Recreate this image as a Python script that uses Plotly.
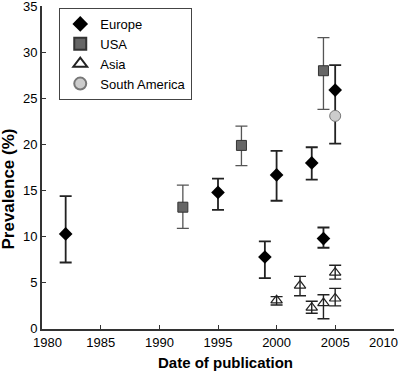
import plotly.graph_objects as go

# Europe
eu_year = [1982, 1995, 1999, 2000, 2003, 2004, 2005]
eu_val = [10.3, 14.8, 7.8, 16.7, 18.0, 9.8, 25.9]
eu_lo = [7.2, 12.9, 5.5, 13.9, 16.2, 8.8, 20.1]
eu_hi = [14.4, 16.3, 9.5, 19.3, 19.7, 11.0, 28.6]

# USA
us_year = [1992, 1997, 2004]
us_val = [13.2, 19.9, 28.0]
us_lo = [10.9, 17.7, 23.8]
us_hi = [15.6, 22.0, 31.6]

# Asia
as_year = [2000, 2002, 2003, 2004, 2005, 2005]
as_val = [3.1, 4.7, 2.3, 2.8, 6.1, 3.3]
as_lo = [2.6, 3.6, 1.7, 1.1, 5.4, 2.5]
as_hi = [3.5, 5.7, 3.0, 3.7, 6.9, 4.4]

# South America
sa_year = [2005]
sa_val = [23.1]

x_ticks = [1980, 1985, 1990, 1995, 2000, 2005, 2010]
y_ticks = [0, 5, 10, 15, 20, 25, 30, 35]


def err(val, lo, hi, color, thick):
    return dict(type="data", symmetric=False,
                array=[h - v for v, h in zip(val, hi)],
                arrayminus=[v - l for v, l in zip(val, lo)],
                color=color, thickness=thick, width=6)


fig = go.Figure()
fig.add_trace(go.Scatter(
    x=eu_year, y=eu_val, mode="markers", name="Europe",
    marker=dict(symbol="diamond", size=10.5, color="black", line=dict(width=0)),
    error_y=err(eu_val, eu_lo, eu_hi, "#222222", 1.8)))
fig.add_trace(go.Scatter(
    x=us_year, y=us_val, mode="markers", name="USA",
    marker=dict(symbol="square", size=10, color="#666666", line=dict(width=1, color="#333333")),
    error_y=err(us_val, us_lo, us_hi, "#555555", 1.3)))
fig.add_trace(go.Scatter(
    x=as_year, y=as_val, mode="markers", name="Asia",
    marker=dict(symbol="triangle-up-open", size=10, color="#222222", line=dict(width=1.2)),
    error_y=err(as_val, as_lo, as_hi, "#222222", 1.4)))
fig.add_trace(go.Scatter(
    x=sa_year, y=sa_val, mode="markers", name="South America",
    marker=dict(symbol="circle", size=11, color="#cccccc", line=dict(width=1, color="#777777"))))

axis_common = dict(ticks="inside", ticklen=4, tickcolor="#333333", tickwidth=1.2,
                   showline=True, linecolor="#333333", linewidth=2,
                   showgrid=False, zeroline=False, automargin=False,
                   ticklabeloverflow="allow", tickfont=dict(size=13))

# first and last x tick labels are drawn nudged inward (as in the reference)
x_ticktext = [""] + [str(t) for t in x_ticks[1:-1]] + [""]
edge_labels = [(x_ticks[0], 5), (x_ticks[-1], -10)]

annotations = [
    dict(text=str(t), xref="x", yref="paper", x=t, y=-0.0433,
         xanchor="center", yanchor="middle", xshift=s,
         showarrow=False, font=dict(size=13))
    for t, s in edge_labels
]
annotations += [
    dict(text="<b>Date of publication</b>", xref="paper", yref="paper",
         x=0.521, y=-0.105, xanchor="center", yanchor="middle",
         showarrow=False, font=dict(size=15)),
    dict(text="<b>Prevalence (%)</b>", xref="paper", yref="paper",
         x=-0.0966, y=0.435, xanchor="center", yanchor="middle",
         textangle=-90, showarrow=False, font=dict(size=17)),
]

fig.update_layout(
    width=404, height=374,
    margin=dict(l=42, r=10, t=6, b=45),
    paper_bgcolor="white", plot_bgcolor="white",
    font=dict(family="Liberation Sans, Arial, sans-serif", size=13, color="black"),
    showlegend=True,
    legend=dict(x=0.049, y=0.994, xanchor="left", yanchor="top",
                bordercolor="#444444", borderwidth=1, bgcolor="white",
                font=dict(size=13), tracegroupgap=0, itemsizing="constant"),
    xaxis=dict(range=[1979.98, 2010.02], tickvals=x_ticks, ticktext=x_ticktext, **axis_common),
    yaxis=dict(range=[-0.01, 35.02], tickvals=y_ticks, **axis_common),
    annotations=annotations,
)

fig.write_html("out.html", config={"displayModeBar": False},
               post_script="document.body.style.margin='0';")
